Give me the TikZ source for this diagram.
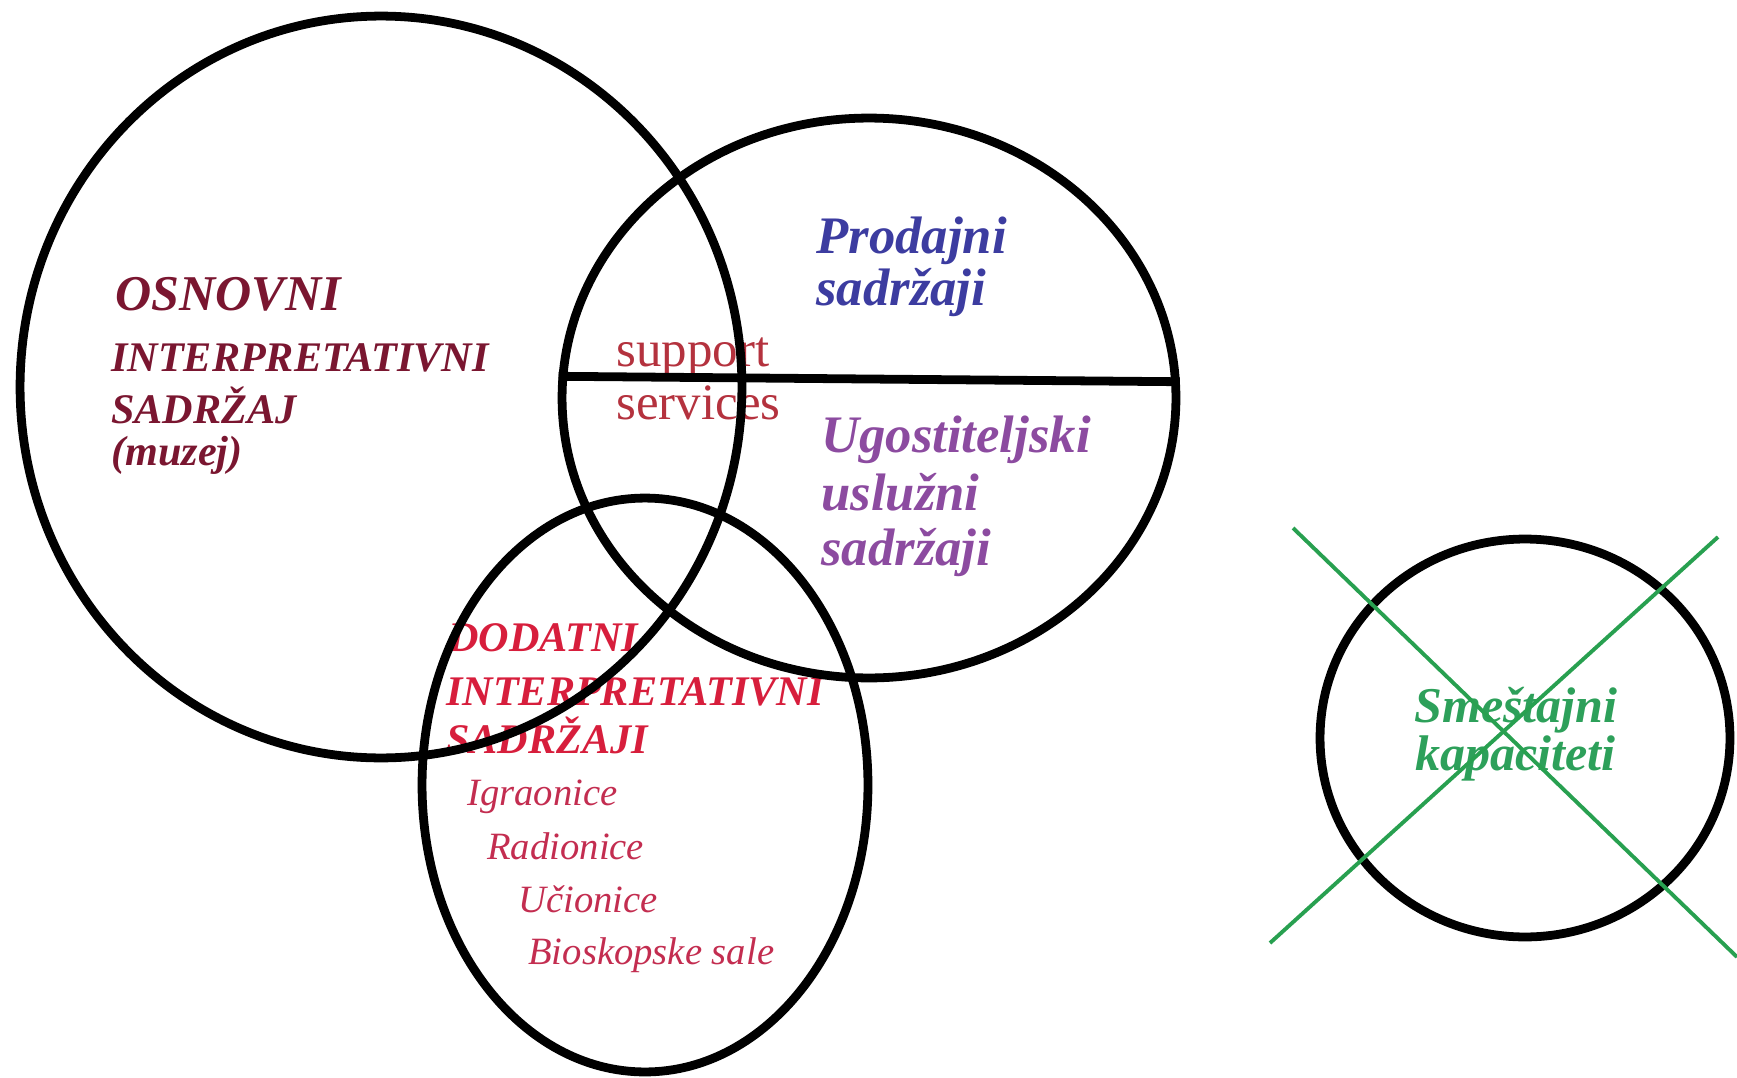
\documentclass[tikz,border=0pt]{standalone}
\usepackage{fontspec}
\setmainfont{Liberation Serif}
\usepackage{xcolor}
\usetikzlibrary{shapes.geometric, positioning}

\definecolor{osnovnired}{RGB}{122,22,48}
\definecolor{supportred}{RGB}{180,50,62}
\definecolor{prodajniblue}{RGB}{60,60,160}
\definecolor{ugostpurple}{RGB}{140,75,160}
\definecolor{dodatnired}{RGB}{215,30,60}
\definecolor{listred}{RGB}{195,45,80}
\definecolor{smestgreen}{RGB}{45,160,90}
\definecolor{crossgreen}{RGB}{40,160,80}

\begin{document}
\begin{tikzpicture}[x=0.02cm, y=-0.02cm,
  ring/.style={draw=black, line width=5pt, ellipse, inner sep=0pt},
  lbl/.style={anchor=base west, inner sep=0pt},
  bigcaps/.style={lbl, font=\fontsize{24}{28}\selectfont\bfseries\itshape},
  itemtext/.style={lbl, text=listred, font=\fontsize{22}{26}\selectfont\itshape},
  boldit/.style={lbl, font=\fontsize{30}{34}\selectfont\bfseries\itshape},
  cross/.style={draw=crossgreen, line width=2.2pt}]
\useasboundingbox (0,0) rectangle (1737,1078);

% Osnovni sadrzaj
\node[bigcaps, text=osnovnired, font=\fontsize{28.5}{32}\selectfont\bfseries\itshape] (osn1) at (115,310) {OSNOVNI};
\node[bigcaps, text=osnovnired] (osn2) at (111,371) {INTERPRETATIVNI};
\node[bigcaps, text=osnovnired] (osn3) at (111,423) {SADRŽAJ};
\node[bigcaps, text=osnovnired, font=\fontsize{24}{28}\selectfont\bfseries\itshape] (osn4) at (111,465) {(muzej)};

% Support services
\node[lbl, text=supportred, font=\fontsize{29}{32}\selectfont] (sup1) at (616,366) {support};
\node[lbl, text=supportred, font=\fontsize{29}{32}\selectfont] (sup2) at (616,419) {services};

% Prodajni i ugostiteljski
\node[boldit, text=prodajniblue] (prod1) at (816,253) {Prodajni};
\node[boldit, text=prodajniblue] (prod2) at (816,305) {sadržaji};
\node[boldit, text=ugostpurple] (ugo1) at (821,452) {Ugostiteljski};
\node[boldit, text=ugostpurple] (ugo2) at (821,510) {uslužni};
\node[boldit, text=ugostpurple] (ugo3) at (821,565) {sadržaji};

% Dodatni sadrzaji
\node[bigcaps, text=dodatnired] (dod1) at (448,651) {DODATNI};
\node[bigcaps, text=dodatnired] (dod2) at (446,705) {INTERPRETATIVNI};
\node[bigcaps, text=dodatnired] (dod3) at (446,753) {SADRŽAJI};
\node[itemtext] (it1) at (467,805) {Igraonice};
\node[itemtext] (it2) at (487,859) {Radionice};
\node[itemtext] (it3) at (518,912) {Učionice};
\node[itemtext] (it4) at (528,964) {Bioskopske sale};

% Smestaj
\node[boldit, text=smestgreen, font=\fontsize{28.5}{32}\selectfont\bfseries\itshape] (sm1) at (1414,722) {Smeštajni};
\node[boldit, text=smestgreen, font=\fontsize{28.5}{32}\selectfont\bfseries\itshape] (sm2) at (1415,770) {kapaciteti};

% Circles
\node[ring, minimum width=14.44cm, minimum height=14.84cm] (osnovni) at (381,387) {};
\node[ring, minimum width=12.28cm, minimum height=11.2cm] (prodajni) at (869,398) {};
\node[ring, minimum width=8.92cm, minimum height=11.48cm] (dodatni) at (645,785) {};
\node[ring, minimum width=8.2cm, minimum height=7.96cm] (smestaj) at (1525,738) {};
\draw[line width=5pt] (prodajni.176.7) -- (prodajni.3.3);

% Cross over smestaj
\coordinate (xa1) at (1293,528);
\coordinate (xa2) at (1737,957);
\coordinate (xb1) at (1270,943);
\coordinate (xb2) at (1718,537);
\draw[cross] (xa1) -- (xa2);
\draw[cross] (xb1) -- (xb2);
\end{tikzpicture}
\end{document}
